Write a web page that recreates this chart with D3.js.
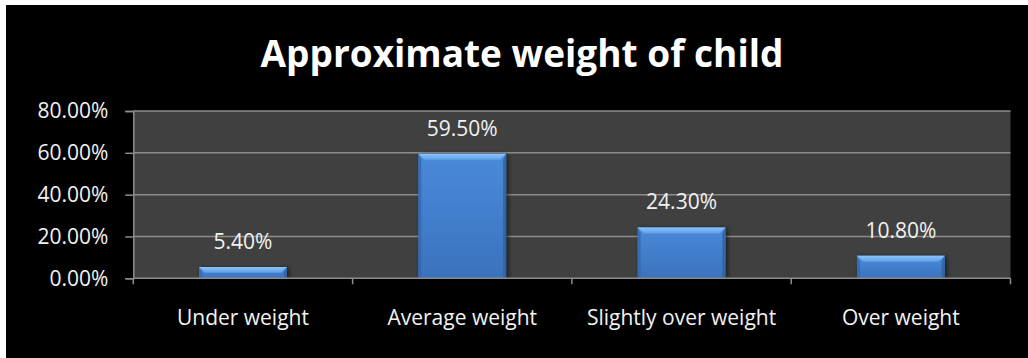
<!DOCTYPE html>
<html>
<head>
<meta charset="utf-8">
<script src="https://cdn.jsdelivr.net/npm/d3@7"></script>
<style>
  html, body { margin: 0; padding: 0; background: #ffffff; }
  svg { display: block; }
</style>
</head>
<body>
<svg id="chart" width="1028" height="358"></svg>
<script>
// Share of children by approximate weight group
const categories = ["Under weight", "Average weight", "Slightly over weight", "Over weight"];
const values = [5.40, 59.50, 24.30, 10.80];
const yTicks = [0, 20, 40, 60, 80];
const title = "Approximate weight of child";

const W = 1028, H = 358;
const plot = { left: 133.3, right: 1010.5, top: 111, bottom: 278.3 };
const labelFont = "'Open Sans', sans-serif";
const labelSize = 21;

const svg = d3.select("#chart");

// black chart frame
svg.append("rect")
  .attr("x", 6).attr("y", 5)
  .attr("width", W - 6).attr("height", H - 5)
  .attr("fill", "#000000");

const x = d3.scaleBand()
  .domain(categories)
  .range([plot.left, plot.right])
  .paddingInner(0.6)
  .paddingOuter(0.3);

const y = d3.scaleLinear()
  .domain([0, 80])
  .range([plot.bottom, plot.top]);

// plot area
svg.append("rect")
  .attr("x", plot.left).attr("y", plot.top)
  .attr("width", plot.right - plot.left)
  .attr("height", plot.bottom - plot.top)
  .attr("fill", "#404040");

// gridlines
svg.append("g")
  .selectAll("line")
  .data(yTicks.filter(d => d > 0))
  .join("line")
  .attr("x1", plot.left).attr("x2", plot.right)
  .attr("y1", d => y(d)).attr("y2", d => y(d))
  .attr("stroke", "#8c8c8c")
  .attr("stroke-width", 1.5);

// y axis
const yAxis = svg.append("g")
  .attr("transform", `translate(${plot.left},0)`)
  .call(d3.axisLeft(y).tickValues(yTicks).tickSize(8).tickPadding(17)
    .tickFormat(d => d.toFixed(2) + "%"));
yAxis.select(".domain").attr("stroke", "#8c8c8c").attr("stroke-width", 1.5);
yAxis.selectAll(".tick line").attr("stroke", "#8c8c8c").attr("stroke-width", 1.5);
yAxis.selectAll(".tick text")
  .attr("fill", "#f2f2f2")
  .attr("font-family", labelFont)
  .attr("font-size", labelSize);

// gradients for the bevelled bars
const defs = svg.append("defs");
const body = defs.append("linearGradient").attr("id", "barBody")
  .attr("x1", 0).attr("y1", 0).attr("x2", 0).attr("y2", 1);
body.append("stop").attr("offset", "0%").attr("stop-color", "#4a8ad9");
body.append("stop").attr("offset", "100%").attr("stop-color", "#3a72bd");

const topBevel = defs.append("linearGradient").attr("id", "barTop")
  .attr("x1", 0).attr("y1", 0).attr("x2", 0).attr("y2", 1);
topBevel.append("stop").attr("offset", "0%").attr("stop-color", "#8cc4fb");
topBevel.append("stop").attr("offset", "100%").attr("stop-color", "#5d9fe8");

const shadow = defs.append("filter").attr("id", "barShadow")
  .attr("x", "-20%").attr("y", "-20%").attr("width", "140%").attr("height", "140%");
shadow.append("feGaussianBlur").attr("in", "SourceAlpha").attr("stdDeviation", 2.5);
shadow.append("feOffset").attr("dx", 2).attr("dy", 1).attr("result", "blur");
shadow.append("feComponentTransfer").append("feFuncA").attr("type", "linear").attr("slope", 0.6);
const merge = shadow.append("feMerge");
merge.append("feMergeNode");
merge.append("feMergeNode").attr("in", "SourceGraphic");

const bev = 6;
const bars = svg.append("g")
  .selectAll("g")
  .data(categories.map((c, i) => ({ c, v: values[i] })))
  .join("g");

bars.append("rect")
  .attr("x", d => x(d.c))
  .attr("y", d => y(d.v))
  .attr("width", x.bandwidth())
  .attr("height", d => y(0) - y(d.v))
  .attr("fill", "url(#barBody)")
  .attr("filter", "url(#barShadow)");

// left and right darker bevel edges
bars.append("path")
  .attr("d", d => {
    const x0 = x(d.c), y0 = y(d.v), y1 = y(0), b = Math.min(bev, (y1 - y0) / 2);
    return `M${x0},${y0}L${x0 + 3},${y0 + b}L${x0 + 3},${y1}L${x0},${y1}Z`;
  })
  .attr("fill", "#3468ad").attr("opacity", 0.8);
bars.append("path")
  .attr("d", d => {
    const x1 = x(d.c) + x.bandwidth(), y0 = y(d.v), y1 = y(0), b = Math.min(bev, (y1 - y0) / 2);
    return `M${x1},${y0}L${x1 - 3},${y0 + b}L${x1 - 3},${y1}L${x1},${y1}Z`;
  })
  .attr("fill", "#2f5f9f").attr("opacity", 0.8);

// top highlight bevel
bars.append("path")
  .attr("d", d => {
    const x0 = x(d.c), x1 = x0 + x.bandwidth(), y0 = y(d.v);
    const b = Math.min(bev, (y(0) - y0) / 2);
    return `M${x0},${y0}L${x1},${y0}L${x1 - b},${y0 + b}L${x0 + b},${y0 + b}Z`;
  })
  .attr("fill", "url(#barTop)");

// value labels
bars.append("text")
  .attr("x", d => x(d.c) + x.bandwidth() / 2)
  .attr("y", d => y(d.v) - 18)
  .attr("text-anchor", "middle")
  .attr("fill", "#f2f2f2")
  .attr("font-family", labelFont)
  .attr("font-size", labelSize)
  .text(d => d.v.toFixed(2) + "%");

// category axis with ticks on the band boundaries
const boundaries = categories.map(c => x(c) - x.step() * x.paddingInner() / 2)
  .concat([plot.right]);
svg.append("line")
  .attr("x1", plot.left).attr("x2", plot.right)
  .attr("y1", plot.bottom).attr("y2", plot.bottom)
  .attr("stroke", "#8c8c8c").attr("stroke-width", 1.5);
svg.append("g")
  .selectAll("line")
  .data(boundaries)
  .join("line")
  .attr("x1", d => d).attr("x2", d => d)
  .attr("y1", plot.bottom).attr("y2", plot.bottom + 6)
  .attr("stroke", "#8c8c8c").attr("stroke-width", 1.5);

svg.append("g")
  .selectAll("text")
  .data(categories)
  .join("text")
  .attr("x", d => x(d) + x.bandwidth() / 2)
  .attr("y", 325)
  .attr("text-anchor", "middle")
  .attr("fill", "#f2f2f2")
  .attr("font-family", labelFont)
  .attr("font-size", labelSize)
  .text(d => d);

// title
svg.append("text")
  .attr("x", (260 + 784) / 2)
  .attr("y", 66.5)
  .attr("text-anchor", "middle")
  .attr("fill", "#ffffff")
  .attr("font-family", "'Open Sans', sans-serif")
  .attr("font-weight", "bold")
  .attr("font-size", 37)
  .text(title);
</script>
</body>
</html>
